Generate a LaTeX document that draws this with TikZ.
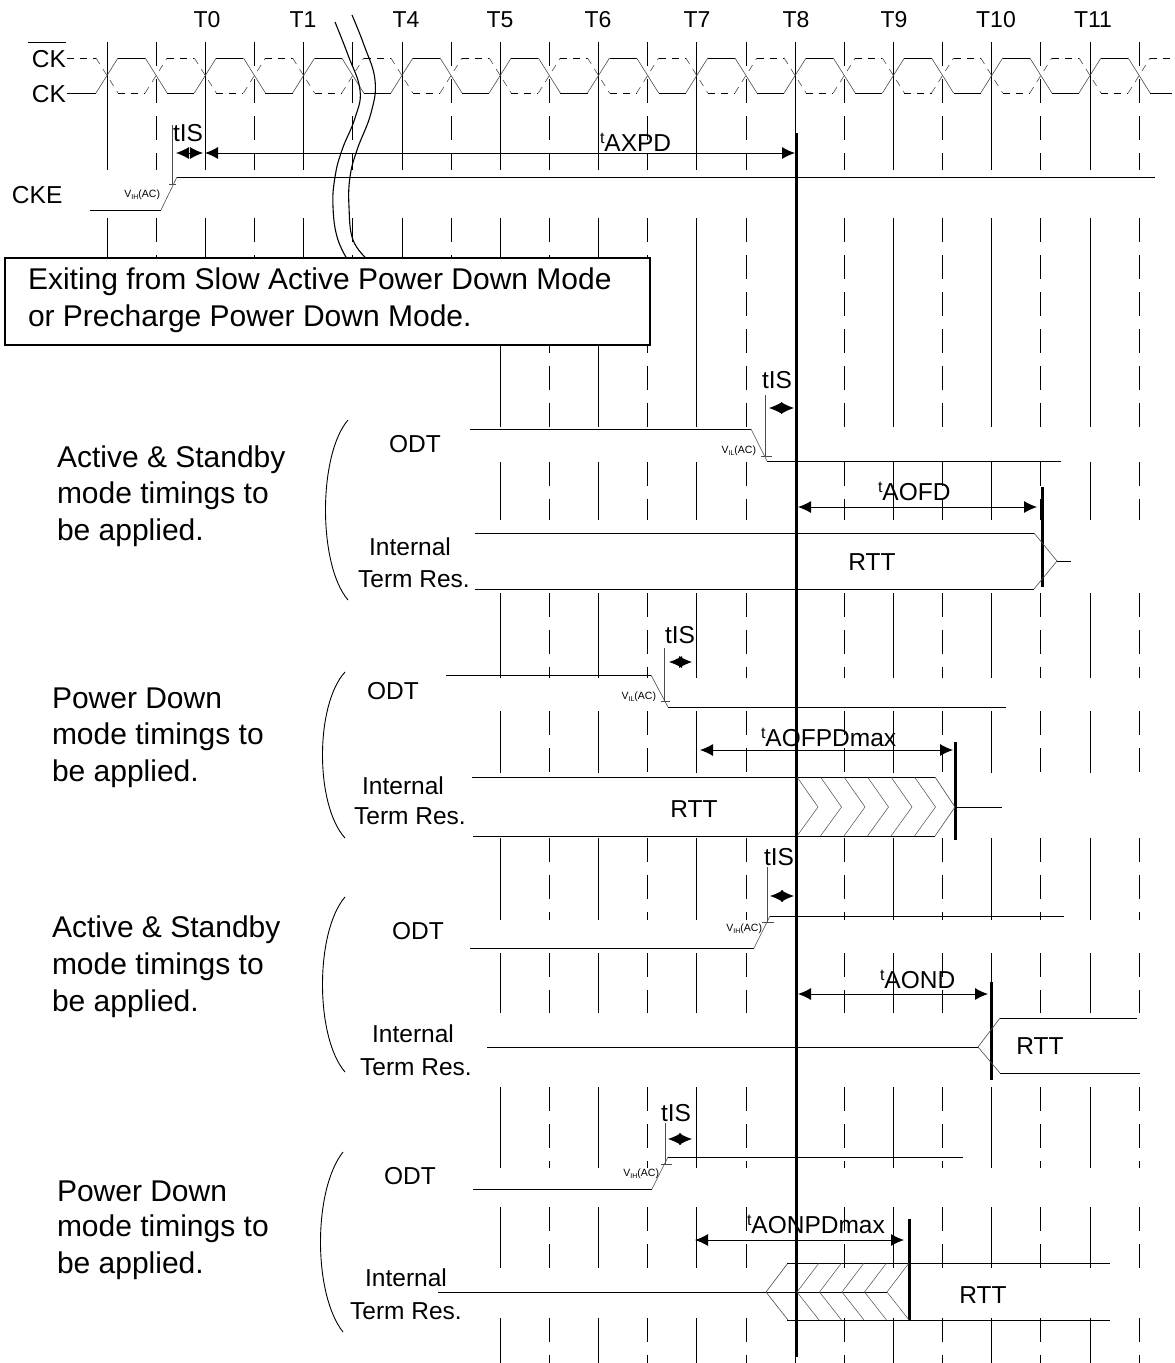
\documentclass[tikz,border=0pt]{standalone}
\usepackage{fontspec}
\setmainfont{Liberation Sans}
\usetikzlibrary{arrows.meta}
\newcommand\fTl{\fontsize{23}{27}\selectfont}
\newcommand\fSg{\fontsize{24.5}{29}\selectfont}
\newcommand\fBg{\fontsize{30}{37}\selectfont}
\newcommand\fVv{\fontsize{10.5}{12}\selectfont}
\newcommand\fSub{\fontsize{7}{8}\selectfont}
\newcommand\smt{\raisebox{8pt}{\fontsize{16}{16}\selectfont t}}
\newcommand\vlab[1]{{\fVv V\raisebox{-2pt}{\fSub #1}(AC)}}
\tikzset{
  lbl/.style={inner sep=0pt, outer sep=0pt, anchor=base},
  lblw/.style={lbl, anchor=base west},
  lble/.style={lbl, anchor=base east},
  sig/.style={line width=0.9pt},
  edg/.style={line width=0.6pt, black!70},
  ckdash/.style={dash pattern=on 7pt off 6pt},
  thk/.style={line width=3pt},
  guideT/.style={line width=0.8pt},
  guideH/.style={line width=0.8pt, dash pattern=on 24pt off 13pt},
  dim/.style={line width=0.9pt, {Latex[length=13pt,width=12pt]}-{Latex[length=13pt,width=12pt]}},
  hatch/.style={line width=0.5pt, black!70},
  brc/.style={line width=0.9pt},
  brk/.style={line width=1.1pt},
}
\begin{document}
\begin{tikzpicture}[x=1pt,y=-1pt]
\useasboundingbox (0,0) rectangle (1175,1363);
\fill[white] (0,0) rectangle (1175,1363);
% ---------- guide lines ----------
\foreach \k in {0,...,21}{
  \pgfmathsetmacro\gx{107+49.15*\k}
  \ifodd\k\tikzset{gcur/.style={guideH}}\else\tikzset{gcur/.style={guideT}}\fi
  \ifnum\k<8
    \foreach \a/\b in {42/170,218/258}{\draw[gcur] (\gx,\a) -- (\gx,\b);}
  \else
    \foreach \a/\b in {42/170,218/427,462/520,593/678,711/773,838/920,953/1013,1087/1168,1207/1268,1318/1363}{\draw[gcur] (\gx,\a) -- (\gx,\b);}
  \fi
}
% ---------- clock ----------
\draw[sig] (67,93) -- (96,93);
\draw[sig,ckdash] (67,58) -- (96,58);
\foreach \k in {0,...,21}{
  \pgfmathsetmacro\ea{107+49.15*\k-11}
  \pgfmathsetmacro\eb{107+49.15*\k+11}
  \pgfmathsetmacro\ec{min(107+49.15*(\k+1)-11,1172)}
  \ifodd\k
    \draw[edg] (\ea,58) -- (\eb,93);
    \draw[edg,ckdash] (\ea,93) -- (\eb,58);
    \draw[sig] (\eb,93) -- (\ec,93);
    \draw[sig,ckdash] (\eb,58) -- (\ec,58);
  \else
    \draw[edg] (\ea,93) -- (\eb,58);
    \draw[edg,ckdash] (\ea,58) -- (\eb,93);
    \draw[sig] (\eb,58) -- (\ec,58);
    \draw[sig,ckdash] (\eb,93) -- (\ec,93);
  \fi
}
% labels top
\node[lble] (ckblab) at (66,67) {\fSg CK};
\draw[sig] ([shift={(-4,-7)}]ckblab.north west) -- ([shift={(0,-7)}]ckblab.north east);
\node[lble] (cklab) at (66,102) {\fSg CK};
\node[lblw] (ckelab) at (12,203) {\fSg CKE};
\node[lbl] (t0) at (207,27) {\fTl T0};
\node[lbl] (t1) at (303,27) {\fTl T1};
\node[lbl] (t4) at (406,27) {\fTl T4};
\node[lbl] (t5) at (500,27) {\fTl T5};
\node[lbl] (t6) at (598,27) {\fTl T6};
\node[lbl] (t7) at (697,27) {\fTl T7};
\node[lbl] (t8) at (796,27) {\fTl T8};
\node[lbl] (t9) at (894,27) {\fTl T9};
\node[lbl] (t10) at (996,27) {\fTl T10};
\node[lbl] (t11) at (1093,27) {\fTl T11};
% CKE
\draw[sig] (90,210) -- (161,210);
\draw[edg] (161,210) -- (177,177);
\draw[sig] (177,177) -- (1155,177);
\draw[edg] (172,125) -- (172,185);
\draw[edg] (169,184) -- (176,184);
\node[lble] (vcke) at (160,197) {\vlab{IH}};
\node[lblw] (tiscke) at (173,141) {\fSg tIS};
\coordinate (a1) at (176,153); \coordinate (a2) at (203,153);
\coordinate (a3) at (205,153); \coordinate (a4) at (795,153);
\draw[dim] (a1) -- (a2);
\draw[dim] (a3) -- (a4);
\node[lblw] (taxpd) at (600,151) {\fSg\smt AXPD};
% break
\draw[brk] plot[smooth, tension=0.7] coordinates {(335,22) (348,55) (360,90) (355,118) (342,150) (335,177) (333,207) (338,240) (352,267)};
\draw[brk] plot[smooth, tension=0.7] coordinates {(352,15) (364,45) (375,80) (371,113) (357,150) (350,177) (349,207) (353,240) (368,260)};
% box
\draw[line width=2pt, fill=white] (5,258) rectangle (650,345);
\node[lblw] (box1) at (28,289) {\fBg Exiting from Slow Active Power Down Mode};
\node[lblw] (box2) at (28,326) {\fBg or Precharge Power Down Mode.};
% thick T8
\coordinate (t8top) at (796,133); \coordinate (t8bot) at (796,1357);
\draw[thk] (t8top) -- (t8bot);
% ================= Section 1 =================
\node[lblw] (s1a) at (57,467) {\fBg Active \& Standby};
\node[lblw] (s1b) at (57,503) {\fBg mode timings to};
\node[lblw] (s1c) at (57,540) {\fBg be applied.};
\draw[brc] (348,420) .. controls (318,455) and (318,565) .. (348,600);
\node[lbl] (s1odt) at (415,452) {\fSg ODT};
\node[lbl] (s1int) at (410,555) {\fSg Internal};
\node[lbl] (s1trm) at (414,587) {\fSg Term Res.};
\draw[sig] (470,429) -- (751,429);
\draw[edg] (751,429) -- (767,461);
\draw[sig] (767,461) -- (1061,461);
\draw[edg] (765,395) -- (765,457);
\draw[edg] (761,456) -- (772,456);
\node[lble] (s1v) at (756,453) {\vlab{IL}};
\node[lblw] (s1tis) at (762,388) {\fSg tIS};
\coordinate (b1) at (769,408); \coordinate (b2) at (794,408);
\draw[dim] (b1) -- (b2);
\node[lblw] (s1t) at (878,500) {\fSg\smt AOFD};
\coordinate (b3) at (798,507); \coordinate (b4) at (1037,507);
\draw[dim] (b3) -- (b4);
\draw[thk] (1042,487) -- (1042,587);
\draw[sig] (475,533) -- (1034,533);
\draw[sig] (475,589) -- (1034,589);
\draw[edg] (1034,533) -- (1057,561) -- (1034,589);
\draw[sig] (1057,561) -- (1071,561);
\node[lbl] (s1rtt) at (872,570) {\fSg RTT};
% ================= Section 2 =================
\node[lblw] (s2a) at (52,708) {\fBg Power Down};
\node[lblw] (s2b) at (52,744) {\fBg mode timings to};
\node[lblw] (s2c) at (52,781) {\fBg be applied.};
\draw[brc] (345,672) .. controls (315,705) and (315,805) .. (345,838);
\node[lbl] (s2odt) at (393,699) {\fSg ODT};
\node[lbl] (s2int) at (403,794) {\fSg Internal};
\node[lbl] (s2trm) at (410,824) {\fSg Term Res.};
\draw[sig] (446,675) -- (651,675);
\draw[edg] (651,675) -- (668,707);
\draw[sig] (668,707) -- (1006,707);
\draw[edg] (664,648) -- (664,701);
\draw[edg] (661,701) -- (670,701);
\node[lble] (s2v) at (656,699) {\vlab{IL}};
\node[lblw] (s2tis) at (665,643) {\fSg tIS};
\coordinate (c1) at (669,662); \coordinate (c2) at (692,662);
\draw[dim] (c1) -- (c2);
\node[lblw] (s2t) at (761,746) {\fSg\smt AOFPDmax};
\coordinate (c3) at (700,750); \coordinate (c4) at (953,750);
\draw[dim] (c3) -- (c4);
\draw[thk] (955,742) -- (955,840);
\draw[sig] (472,777) -- (935,777);
\draw[sig] (473,836) -- (935,836);
\foreach \i in {0,...,5}{
  \draw[hatch] (797+23.5*\i,777) -- (818+23.5*\i,807) -- (797+23.5*\i,836);
}
\draw[edg] (935,777) -- (955,807) -- (935,836);
\draw[sig] (955,807) -- (1002,807);
\node[lbl] (s2rtt) at (694,817) {\fSg RTT};
% ================= Section 3 =================
\node[lblw] (s3a) at (52,937) {\fBg Active \& Standby};
\node[lblw] (s3b) at (52,974) {\fBg mode timings to};
\node[lblw] (s3c) at (52,1011) {\fBg be applied.};
\draw[brc] (345,897) .. controls (315,932) and (315,1037) .. (345,1072);
\node[lbl] (s3odt) at (418,939) {\fSg ODT};
\node[lbl] (s3int) at (413,1042) {\fSg Internal};
\node[lbl] (s3trm) at (416,1075) {\fSg Term Res.};
\draw[sig] (470,948) -- (754,948);
\draw[edg] (754,948) -- (770,916);
\draw[sig] (770,916) -- (1064,916);
\draw[edg] (767,867) -- (767,922);
\draw[edg] (762,922) -- (774,922);
\node[lble] (s3v) at (762,931) {\vlab{IH}};
\node[lblw] (s3tis) at (764,865) {\fSg tIS};
\coordinate (d1) at (770,896); \coordinate (d2) at (794,896);
\draw[dim] (d1) -- (d2);
\node[lblw] (s3t) at (880,988) {\fSg\smt AOND};
\coordinate (d3) at (798,994); \coordinate (d4) at (988,994);
\draw[dim] (d3) -- (d4);
\draw[thk] (991,982) -- (991,1080);
\draw[sig] (487,1047) -- (978,1047);
\draw[edg] (1000,1018) -- (978,1047) -- (1000,1073);
\draw[sig] (1000,1018) -- (1137,1018);
\draw[sig] (1000,1073) -- (1140,1073);
\node[lbl] (s3rtt) at (1040,1054) {\fSg RTT};
% ================= Section 4 =================
\node[lblw] (s4a) at (57,1201) {\fBg Power Down};
\node[lblw] (s4b) at (57,1236) {\fBg mode timings to};
\node[lblw] (s4c) at (57,1273) {\fBg be applied.};
\draw[brc] (343,1152) .. controls (313,1190) and (313,1294) .. (343,1332);
\node[lbl] (s4odt) at (410,1184) {\fSg ODT};
\node[lbl] (s4int) at (406,1286) {\fSg Internal};
\node[lbl] (s4trm) at (406,1319) {\fSg Term Res.};
\draw[sig] (473,1189) -- (652,1189);
\draw[edg] (652,1189) -- (668,1157);
\draw[sig] (668,1157) -- (963,1157);
\draw[edg] (665,1123) -- (665,1164);
\draw[edg] (661,1164) -- (672,1164);
\node[lble] (s4v) at (659,1176) {\vlab{IH}};
\node[lblw] (s4tis) at (661,1121) {\fSg tIS};
\coordinate (e1) at (668,1139); \coordinate (e2) at (692,1139);
\draw[dim] (e1) -- (e2);
\node[lblw] (s4t) at (747,1233) {\fSg\smt AONPDmax};
\coordinate (e3) at (695,1240); \coordinate (e4) at (904,1240);
\draw[dim] (e3) -- (e4);
\draw[thk] (909,1219) -- (909,1321);
\draw[sig] (438,1292) -- (887,1292);
\draw[edg] (788,1263) -- (766,1292) -- (788,1320);
\draw[sig] (787,1263) -- (1110,1263);
\draw[sig] (787,1320) -- (1110,1320);
\foreach \i in {0,...,4}{
  \draw[hatch] (819+22.5*\i,1263) -- (797+22.5*\i,1292) -- (819+22.5*\i,1320);
}
\node[lbl] (s4rtt) at (983,1303) {\fSg RTT};
\end{tikzpicture}
\end{document}
